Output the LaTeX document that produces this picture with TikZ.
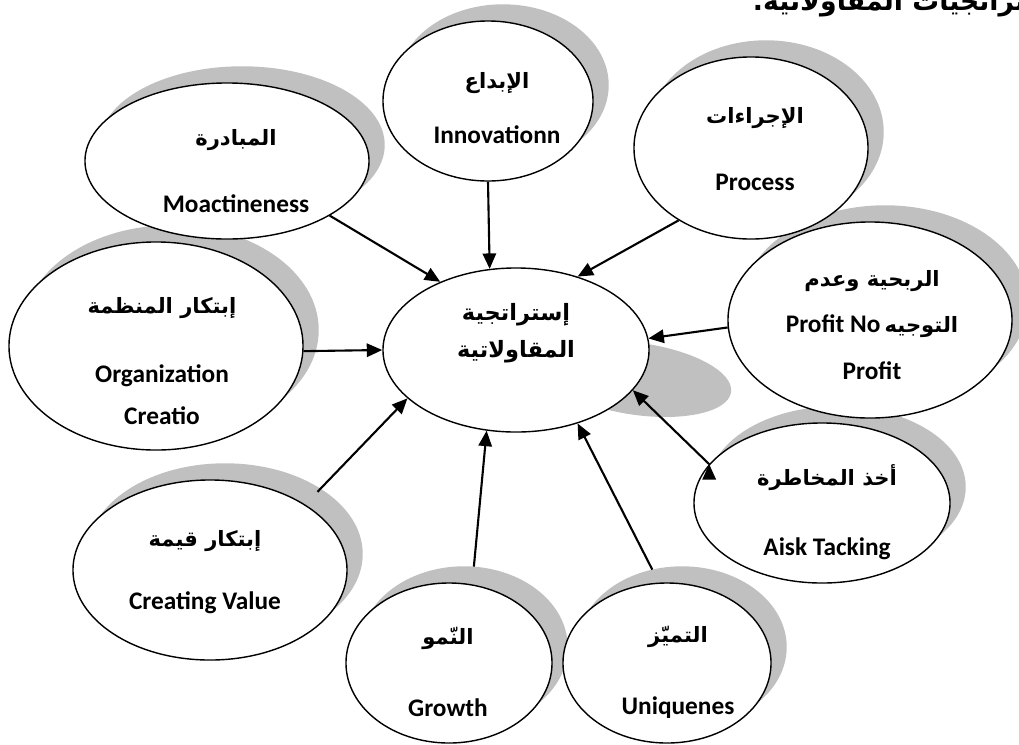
\documentclass[tikz,border=0pt]{standalone}
\usepackage{fontspec}
\setmainfont{Carlito}
\newfontfamily\arabicfont[Script=Arabic]{DejaVu Sans}
\TeXXeTstate=1
\usetikzlibrary{shapes.geometric, arrows.meta, calc, backgrounds}
\definecolor{shadowgray}{RGB}{192,192,192}
\newcommand{\artxt}[1]{{\arabicfont\fontsize{15}{20}\selectfont\beginR #1\endR}}

\begin{document}
\begin{tikzpicture}[x=0.025cm, y=-0.025cm,
    bubble/.style={ellipse, draw, line width=1pt, fill=white, inner sep=0pt},
    lbl/.style={align=center, inner sep=0pt, font=\fontsize{18}{20}\selectfont\bfseries},
    >={Triangle[length=11pt, width=9.5pt]}]
    \useasboundingbox (0, 0) rectangle (1019, 744);

    % heading, cut by the page edge
    \node[anchor=base west, font=\bfseries] (title) at (748, 10)
        {{\arabicfont\fontsize{19}{20}\selectfont\beginR الاستراتجيات المقاولاتية.\endR}};

    \node[bubble, minimum width=7.1cm, minimum height=3.9cm] (moa) at (227, 161) {};
    \node[bubble, minimum width=5.25cm, minimum height=4cm] (inno) at (488, 101) {};
    \node[bubble, minimum width=5.85cm, minimum height=4.55cm] (proc) at (751, 148) {};
    \node[bubble, minimum width=7.1cm, minimum height=4.9cm] (prof) at (870, 320) {};
    \node[bubble, minimum width=7.35cm, minimum height=5.2cm] (org) at (156, 346) {};
    \node[bubble, minimum width=6.4cm, minimum height=4cm] (risk) at (822, 503) {};
    \node[bubble, minimum width=6.85cm, minimum height=4.5cm] (val) at (210, 570) {};
    \node[bubble, minimum width=5.15cm, minimum height=4cm] (grow) at (449, 663) {};
    \node[bubble, minimum width=5.2cm, minimum height=4cm] (uniq) at (667, 663) {};
    \node[bubble, minimum width=6.65cm, minimum height=4.1cm] (strat) at (516, 350) {};

    % shadows behind the bubbles
    \begin{scope}[on background layer]
        \foreach \nd in {moa, inno, proc, prof, org, risk, val, grow, uniq}
            \path let \p0 = (\nd.center), \p1 = (\nd.east), \p2 = (\nd.north) in
                [fill=shadowgray] ($(\p0) + (15, -16)$) ellipse ({\x1-\x0} and {\y2-\y0});
        \fill[shadowgray, rotate around={-8:(638, 379)}] (638, 379) ellipse [x radius=94, y radius=36];
    \end{scope}

    % texts
    \node[lbl] (moa-t) at (236, 171) {\artxt{المبادرة}\\[28pt] Moactineness};
    \node[lbl] (inno-t) at (497, 108) {\artxt{الإبداع}\\[19pt] Innovationn};
    \node[lbl] (proc-t) at (755, 149) {\artxt{الإجراءات}\\[28pt] Process};
    \node[lbl] (prof-t) at (872, 325)
        {\artxt{الربحية وعدم}\\[13pt] Profit No\,\artxt{التوجيه}\\[13pt] Profit};
    \node[lbl] (org-t) at (162, 361) {\artxt{إبتكار المنظمة}\\[29pt] Organization\\[10pt] Creatio};
    \node[lbl] (risk-t) at (827, 512) {\artxt{أخذ المخاطرة}\\[30pt] Aisk Tacking};
    \node[lbl] (val-t) at (205, 572) {\artxt{إبتكار قيمة}\\[25pt] Creating Value};
    \node[lbl] (grow-t) at (448, 672) {\artxt{النّمو}\\[31pt] Growth};
    \node[lbl] (uniq-t) at (678, 672) {\artxt{التميّز}\\[31pt] Uniquenes};
    \node[lbl] (strat-t) at (516, 333)
        {{\arabicfont\fontsize{16}{20}\selectfont\beginR إستراتجية\endR}\\[6pt]
         {\arabicfont\fontsize{16}{20}\selectfont\beginR المقاولاتية\endR}};

    \draw[->, line width=1.5pt]
        (moa.-28)                      edge (strat.138)
        (inno.south)                   edge (strat.108)
        (proc.225)                     edge (strat.50)
        (prof.183)                     edge (strat.5)
        (org.-2)                       edge (strat.180)
        ([shift={(15, -11)}]val.36)    edge (strat.204)
        ([shift={(15, -16)}]grow.83)   edge (strat.250)
        ([shift={(15, -16)}]uniq.111)  edge (strat.310)
        (risk.161)                     edge (strat.341);
\end{tikzpicture}
\end{document}
